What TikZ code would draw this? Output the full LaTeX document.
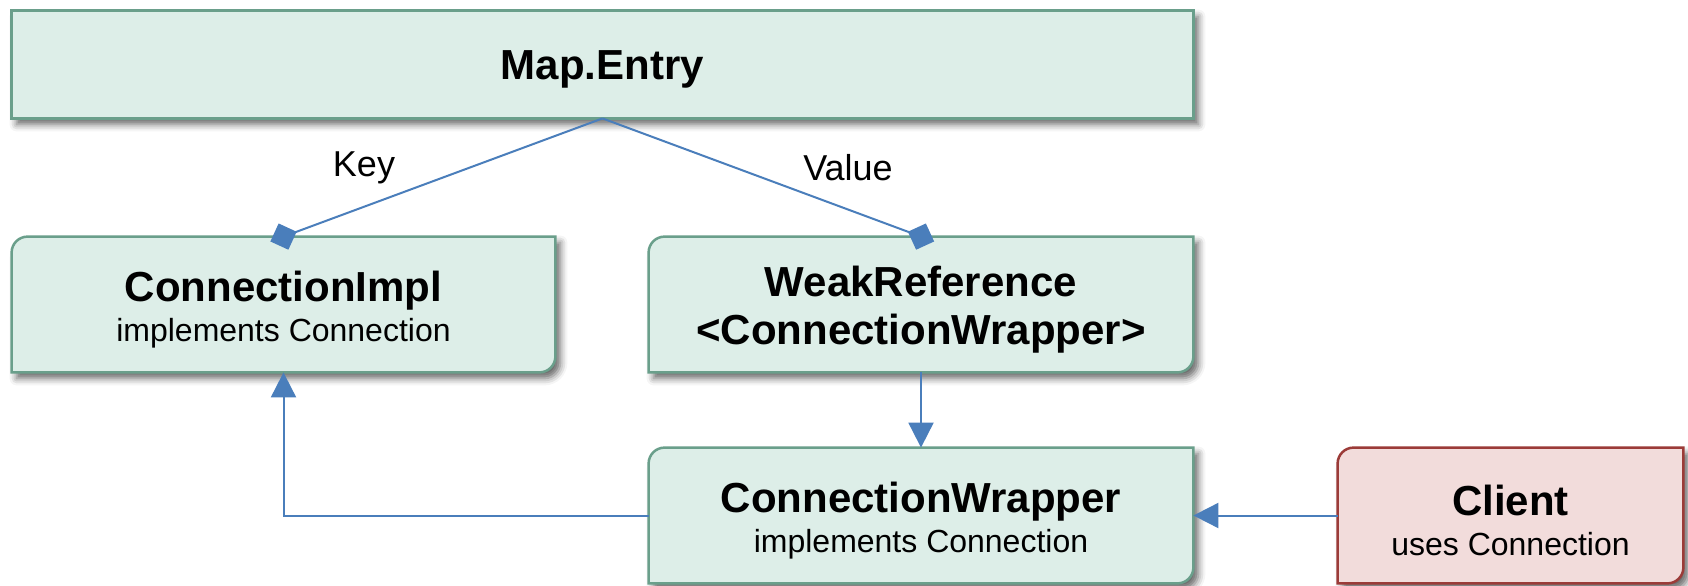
\documentclass[tikz,border=0pt]{standalone}
\usepackage{fontspec}
\setmainfont{Liberation Sans}
\usetikzlibrary{arrows.meta,shadows.blur}
\pgfdeclarelayer{bg}
\pgfsetlayers{bg,main}

\definecolor{cardfill}{HTML}{DDEEE8}
\definecolor{cardline}{HTML}{6A9F8B}
\definecolor{clientfill}{HTML}{F2DCDB}
\definecolor{clientline}{HTML}{9B3B38}
\definecolor{wire}{HTML}{4A7EBB}

\newcommand\cardr{8pt}
% card outline: rounded top-left and bottom-right corners, square elsewhere
\newcommand\cardpath[2]{%
  \begin{pgfonlayer}{bg}
    \path[#1] (#2.south west) -- ([yshift=-\cardr]#2.north west)
      arc[start angle=180,end angle=90,radius=\cardr] -- (#2.north east)
      -- ([yshift=\cardr]#2.south east)
      arc[start angle=0,end angle=-90,radius=\cardr] -- cycle;
  \end{pgfonlayer}}

\tikzset{
  card/.style={inner sep=0pt, align=center, minimum height=67.5pt},
  shade/.style={blur shadow={shadow xshift=2.5pt, shadow yshift=-3pt,
      shadow blur radius=3.5pt, shadow opacity=60}},
  greenbody/.style={shade, fill=cardfill, draw=cardline, line width=1.25pt},
  redbody/.style={shade, fill=clientfill, draw=clientline, line width=1.25pt},
  title/.style={font=\fontsize{21}{24}\selectfont\bfseries},
  wireline/.style={draw=wire, line width=1pt},
  tri/.style={wireline, -{Triangle[length=12.5pt,width=12.5pt]}},
  dia/.style={wireline, -{Turned Square[length=14pt,width=14pt]}, shorten >=-7pt},
  tag/.style={font=\fontsize{18}{21}\selectfont, inner sep=0pt},
}
% taller first line keeps the text block a little below the box centre
\newcommand\lift{\rule{0pt}{20.5pt}}
\newcommand\sub{\\[-4pt]\fontsize{16}{21}\selectfont\mdseries}

\begin{document}
\begin{tikzpicture}[x=0.5pt,y=0.5pt]
  \useasboundingbox (0,0) rectangle (1688,585);

  % boxes
  \node[card, title, minimum width=590.5pt, minimum height=53.5pt] (map) at (602.5,520.5)
    {\rule{0pt}{19.8pt}Map.Entry};
  \node[card, title, minimum width=271.5pt] (impl) at (283.5,280.5)
    {\lift ConnectionImpl\sub implements Connection};
  \node[card, title, minimum width=272pt] (weak) at (921,280.5)
    {\lift WeakReference\\[0pt]<ConnectionWrapper>};
  \node[card, title, minimum width=272pt] (wrap) at (921,69.5)
    {\lift ConnectionWrapper\sub implements Connection};
  \node[card, title, minimum width=172.5pt] (client) at (1510.5,69.5)
    {\lift Client\sub uses Connection};

  \begin{pgfonlayer}{bg}
    \path[greenbody] (map.south west) rectangle (map.north east);
  \end{pgfonlayer}
  \cardpath{greenbody}{impl}
  \cardpath{greenbody}{weak}
  \cardpath{greenbody}{wrap}
  \cardpath{redbody}{client}

  % connectors
  \draw[dia] (map.south) -- (impl.north);
  \draw[dia] (map.south) -- (weak.north);
  \draw[tri] (weak.south) -- (wrap.north);
  \draw[tri] (wrap.west) -| (impl.south);
  \draw[tri] (client.west) -- (wrap.east);

  % edge labels
  \node[tag] (keylbl) at (364,417) {Key};
  \node[tag] (vallbl) at (848,417) {Value};
\end{tikzpicture}
\end{document}
